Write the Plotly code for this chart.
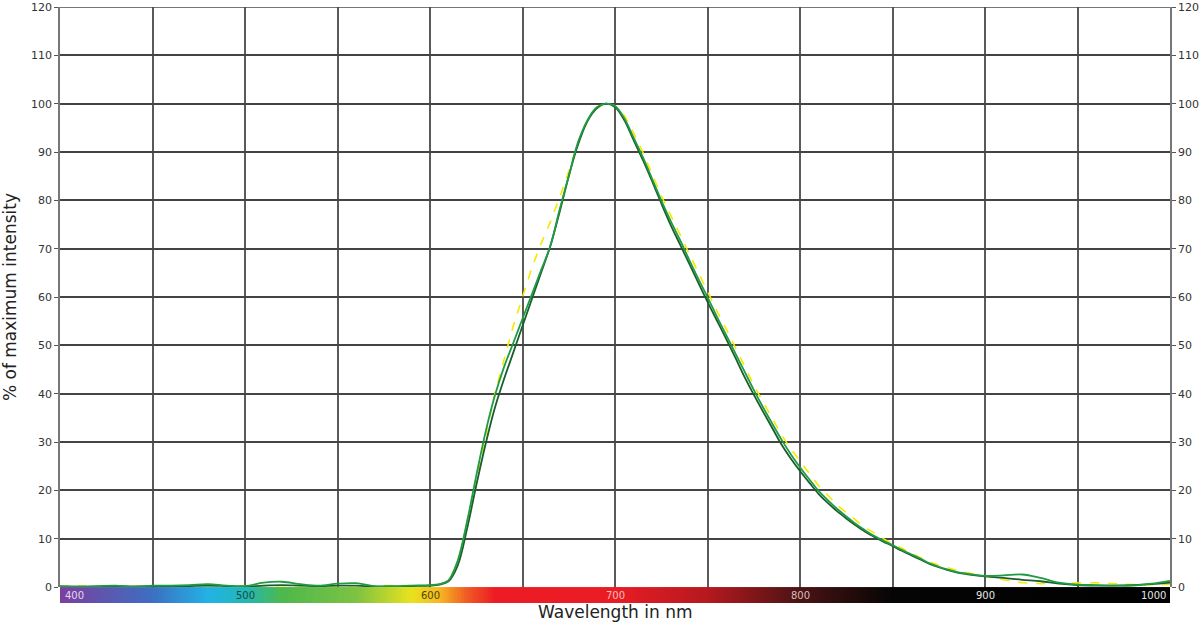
import plotly.graph_objects as go
import numpy as np

# wavelengths (nm) shared by the three measured spectra
wl = [400, 410, 420, 430, 440, 450, 460, 470, 480, 490, 500, 510, 520, 530, 540,
      550, 560, 570, 580, 590, 600,
      605, 610, 615, 620, 625, 630, 635, 640, 645, 650, 655, 660, 665, 670, 675,
      680, 685, 690, 695, 700, 705, 710, 715, 720, 725, 730, 735, 740, 745, 750,
      755, 760, 765, 770, 775, 780, 785, 790, 795, 800, 805, 810, 815, 820, 825,
      830, 835, 840, 845, 850, 855, 860, 865, 870, 875, 880, 885, 890, 895, 900,
      910, 920, 930, 940, 950, 960, 970, 980, 990, 1000]

# bright green spectrum
green = [0.2, 0.1, 0.2, 0.3, 0.1, 0.3, 0.3, 0.4, 0.6, 0.3, 0.2, 0.9, 1.1, 0.6, 0.3,
         0.7, 0.8, 0.2, 0.2, 0.3, 0.4,
         0.6, 1.4, 5.5, 13.5, 23.0, 32.0, 39.5, 45.5, 50.5, 55.5, 60.5, 65.5, 70.5, 78.0, 85.0,
         92.0, 96.5, 99.2, 100.0, 99.5, 97.0, 93.0, 89.0, 84.5, 80.0, 75.8, 71.9, 67.8, 63.8, 60.0,
         56.0, 52.2, 48.4, 44.6, 40.8, 37.2, 33.8, 30.5, 27.5, 24.8, 22.3, 19.9, 18.0, 16.2, 14.6,
         13.1, 11.8, 10.6, 9.6, 8.7, 7.7, 6.8, 5.9, 4.9, 4.2, 3.6, 3.1, 2.8, 2.5, 2.3,
         2.4, 2.6, 1.9, 0.9, 0.5, 0.4, 0.3, 0.3, 0.7, 1.3]

# dark green spectrum
dark_green = [0.1, 0.1, 0.1, 0.2, 0.1, 0.2, 0.1, 0.2, 0.3, 0.2, 0.1, 0.3, 0.4, 0.3, 0.2,
              0.3, 0.3, 0.1, 0.1, 0.2, 0.3,
              0.5, 1.2, 4.5, 12.0, 21.0, 29.5, 37.0, 43.0, 48.5, 54.0, 59.5, 65.0, 70.5, 77.5, 85.0,
              91.5, 96.3, 99.0, 100.0, 99.3, 96.6, 92.5, 88.4, 84.0, 79.4, 75.0, 71.0, 67.0, 63.0, 59.0,
              55.2, 51.4, 47.5, 43.5, 39.8, 36.3, 32.9, 29.5, 26.6, 24.0, 21.6, 19.3, 17.4, 15.7, 14.2,
              12.8, 11.5, 10.4, 9.4, 8.5, 7.5, 6.6, 5.7, 4.8, 4.1, 3.5, 3.0, 2.7, 2.4, 2.2,
              1.9, 1.5, 1.2, 0.7, 0.4, 0.3, 0.3, 0.4, 0.6, 0.9]

# yellow (dashed) spectrum
yellow = [0.2, 0.2, 0.2, 0.2, 0.2, 0.2, 0.2, 0.2, 0.2, 0.2, 0.2, 0.3, 0.3, 0.3, 0.2,
          0.2, 0.2, 0.2, 0.2, 0.2, 0.3,
          0.5, 1.3, 5.0, 13.0, 22.0, 31.0, 40.0, 47.0, 54.0, 60.0, 66.0, 71.0, 75.5, 80.5, 86.0,
          92.0, 96.5, 99.0, 100.0, 99.6, 97.6, 94.0, 90.0, 85.5, 81.0, 77.0, 73.0, 69.0, 65.0, 61.0,
          57.2, 53.5, 49.6, 45.5, 41.8, 38.3, 34.8, 31.5, 28.6, 26.0, 23.5, 21.0, 19.0, 17.0, 15.4,
          13.9, 12.4, 11.2, 10.0, 9.0, 8.0, 7.0, 6.1, 5.2, 4.5, 4.0, 3.4, 3.0, 2.6, 2.2,
          1.5, 0.9, 0.7, 0.8, 0.9, 0.9, 0.7, 0.5, 0.5, 0.6]

# colour strip under the x axis
spectrum_nm = [400, 450, 480, 500, 520, 560, 590, 605, 620, 635, 700, 750, 800, 850, 1000]
spectrum_colors = ['#7b3f9e', '#3d6fc2', '#22b2e6', '#22b7b8', '#4db84c', '#7dc242',
                   '#e9e21e', '#f6b820', '#f05a24', '#ed1c24', '#e91c24', '#b5191f',
                   '#4a1313', '#050505', '#000000']

band_labels = ['400', '500', '600', '700', '800', '900', '1000']
band_label_pos = [400, 500, 600, 700, 800, 900, 1000]
band_label_colors = ['#e6d6f0', '#1d4a38', '#4d4410', '#f6bcbc', '#d9bcbc', '#e6e6e6', '#e6e6e6']

y_ticks = list(range(0, 121, 10))

FONT = 'DejaVu Sans'

fig = go.Figure()

fig.add_trace(go.Scatter(x=wl, y=yellow, mode='lines',
                         line=dict(color='#f5e900', width=1.6, dash='dash'),
                         showlegend=False))
fig.add_trace(go.Scatter(x=wl, y=dark_green, mode='lines', line_shape='spline',
                         line=dict(color='#1b5e2c', width=1.8), showlegend=False))
fig.add_trace(go.Scatter(x=wl, y=green, mode='lines', line_shape='spline',
                         line=dict(color='#1f9a45', width=1.8), showlegend=False))

# invisible trace so the right-hand axis is drawn
fig.add_trace(go.Scatter(x=[400, 1000], y=[0, 120], yaxis='y3', mode='lines',
                         line=dict(width=0), opacity=0, hoverinfo='skip', showlegend=False))

# spectrum strip
lo, hi = spectrum_nm[0], spectrum_nm[-1]
cscale = [[(n - lo) / (hi - lo), c] for n, c in zip(spectrum_nm, spectrum_colors)]
strip_x = np.arange(400, 1001, 1)
fig.add_trace(go.Heatmap(x=strip_x, y=[0.5], z=[strip_x], yaxis='y2',
                         colorscale=cscale, zmin=lo, zmax=hi, showscale=False,
                         hoverinfo='skip'))

for lab, pos, col in zip(band_labels, band_label_pos, band_label_colors):
    anchor = 'left' if pos == 400 else ('right' if pos == 1000 else 'center')
    fig.add_annotation(x=pos, y=0.5, xref='x', yref='y2', text=lab, showarrow=False,
                       xanchor=anchor, yanchor='middle',
                       xshift=3 if pos == 400 else (-2 if pos == 1000 else 0),
                       font=dict(family=FONT, size=10, color=col))

fig.add_annotation(x=0.5, y=-0.0117, xref='paper', yref='paper', text='Wavelength in nm',
                   showarrow=False, xanchor='center', yanchor='middle',
                   font=dict(family=FONT, size=17, color='#222'))

# top border (120 line)
fig.add_shape(type='line', xref='paper', yref='y', x0=0, x1=1, y0=120, y1=120,
              line=dict(color='#4a4a4a', width=1.6))

fig.update_layout(
    width=1200, height=625,
    margin=dict(l=60, r=30, t=7, b=20, autoexpand=False),
    plot_bgcolor='white', paper_bgcolor='white',
    xaxis=dict(range=[400, 1000], dtick=50, showticklabels=False, showgrid=True,
               gridcolor='#5a5a5a', gridwidth=1.6, zeroline=False, showline=False,
               ticks=''),
    yaxis=dict(range=[0, 120], tickvals=y_ticks, domain=[0.03, 1], showgrid=True,
               gridcolor='#444444', gridwidth=1.6, zeroline=False,
               showline=True, linecolor='#777', linewidth=1.5,
               ticks='outside', ticklen=4, tickcolor='#555',
               tickfont=dict(family=FONT, size=11, color='#333'),
               title=dict(text='% of maximum intensity', standoff=14,
                          font=dict(family=FONT, size=17, color='#222'))),
    yaxis2=dict(domain=[0.0033, 0.03], range=[0, 1], showticklabels=False, showgrid=False,
                zeroline=False, fixedrange=True),
    yaxis3=dict(range=[0, 120], tickvals=y_ticks, overlaying='y', side='right',
                showgrid=False, zeroline=False, showline=True, linecolor='#777',
                linewidth=1.5, ticks='outside', ticklen=4, tickcolor='#555',
                tickfont=dict(family=FONT, size=11, color='#333')),
)

fig.write_html("out.html", config={'displayModeBar': False},
               post_script="document.body.style.margin='0';")
